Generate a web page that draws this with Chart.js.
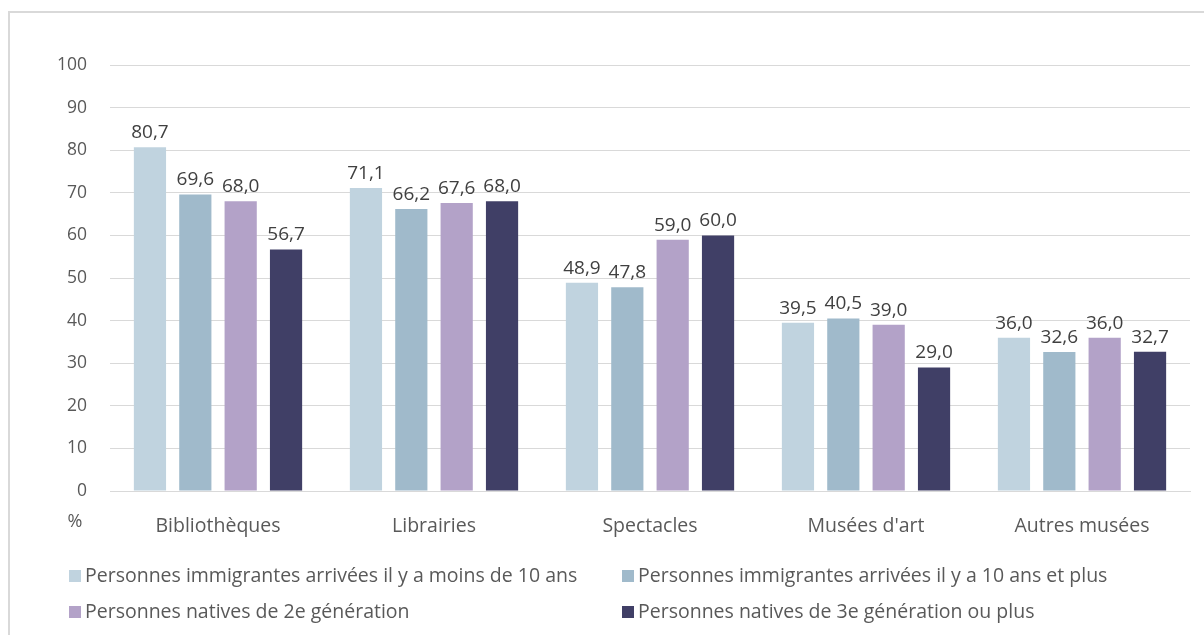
<!DOCTYPE html>
<html>
<head>
<meta charset="utf-8">
<script src="https://cdn.jsdelivr.net/npm/chart.js@4.4.1/dist/chart.umd.min.js"></script>
<style>
  html, body { margin: 0; padding: 0; background: #fff; }
  #frame { position: absolute; left: 8px; top: 11px; width: 1200px; height: 640px; border: 2px solid #d9d9d9; box-sizing: border-box; }
  #wrap { position: absolute; left: 0; top: 0; width: 1204px; height: 635px; }
</style>
</head>
<body>
<div id="frame"></div>
<div id="wrap"><canvas id="myChart" width="1204" height="635"></canvas></div>
<script>
// categories and series
var categories = ["Bibliothèques", "Librairies", "Spectacles", "Musées d'art", "Autres musées"];
var seriesNames = [
  "Personnes immigrantes arrivées il y a moins de 10 ans",
  "Personnes immigrantes arrivées il y a 10 ans et plus",
  "Personnes natives de 2e génération",
  "Personnes natives de 3e génération ou plus"
];
var immigMoins10 = [80.7, 71.1, 48.9, 39.5, 36.0];
var immig10Plus = [69.6, 66.2, 47.8, 40.5, 32.6];
var natives2e = [68.0, 67.6, 59.0, 39.0, 36.0];
var natives3e = [56.7, 68.0, 60.0, 29.0, 32.7];
var colors = ["#c0d3df", "#a0bacb", "#b3a2c8", "#403f66"];

var FONT = "'Open Sans', sans-serif";
var TEXT = "#595959";

var allSeries = [immigMoins10, immig10Plus, natives2e, natives3e];
var datasets = allSeries.map(function (vals, i) {
  return {
    label: seriesNames[i],
    data: vals,
    backgroundColor: colors[i],
    borderWidth: 0,
    categoryPercentage: 0.84,
    barPercentage: 0.71
  };
});

// value labels above bars, french decimal comma
var valueLabels = {
  id: "valueLabels",
  afterDatasetsDraw: function (chart) {
    var ctx = chart.ctx;
    ctx.save();
    ctx.font = "19px " + FONT;
    ctx.fillStyle = "#404040";
    ctx.textAlign = "center";
    ctx.textBaseline = "bottom";
    chart.data.datasets.forEach(function (ds, di) {
      chart.getDatasetMeta(di).data.forEach(function (bar, i) {
        var txt = ds.data[i].toFixed(1).replace(".", ",");
        ctx.fillText(txt, bar.x, bar.y - 5);
      });
    });
    ctx.restore();
  }
};

// two-column legend and the % unit
var gridLegend = {
  id: "gridLegend",
  afterDraw: function (chart) {
    var ctx = chart.ctx;
    ctx.save();
    ctx.font = "18px " + FONT;
    ctx.fillStyle = TEXT;
    ctx.textAlign = "center";
    ctx.textBaseline = "middle";
    ctx.fillText("%", 75, 522);
    var cols = [69, 622];
    var rows = [576, 612];
    ctx.textAlign = "left";
    chart.data.datasets.forEach(function (ds, i) {
      var x = cols[i % 2];
      var y = rows[Math.floor(i / 2)];
      ctx.fillStyle = ds.backgroundColor;
      ctx.fillRect(x, y - 6, 12, 12);
      ctx.fillStyle = TEXT;
      ctx.font = "19.5px " + FONT;
      ctx.fillText(ds.label, x + 16, y);
    });
    ctx.restore();
  }
};

var chart = new Chart("myChart", {
  type: "bar",
  data: { labels: categories, datasets: datasets },
  plugins: [valueLabels, gridLegend],
  options: {
    responsive: false,
    animation: false,
    layout: { padding: { top: 65, right: 14, bottom: 0, left: 0 } },
    plugins: { legend: { display: false }, tooltip: { enabled: false } },
    scales: {
      x: {
        grid: { display: false },
        border: { display: true, color: "#d9d9d9", width: 1 },
        ticks: { color: TEXT, font: { family: FONT, size: 19.5 }, padding: 16 },
        afterFit: function (s) { s.height = 144; }
      },
      y: {
        min: 0, max: 100,
        ticks: { stepSize: 10, color: TEXT, font: { family: FONT, size: 17.5 }, padding: 23 },
        grid: { color: "#d9d9d9", drawTicks: false },
        border: { display: false },
        afterFit: function (s) { s.width = 110; }
      }
    }
  }
});
</script>
</body>
</html>
